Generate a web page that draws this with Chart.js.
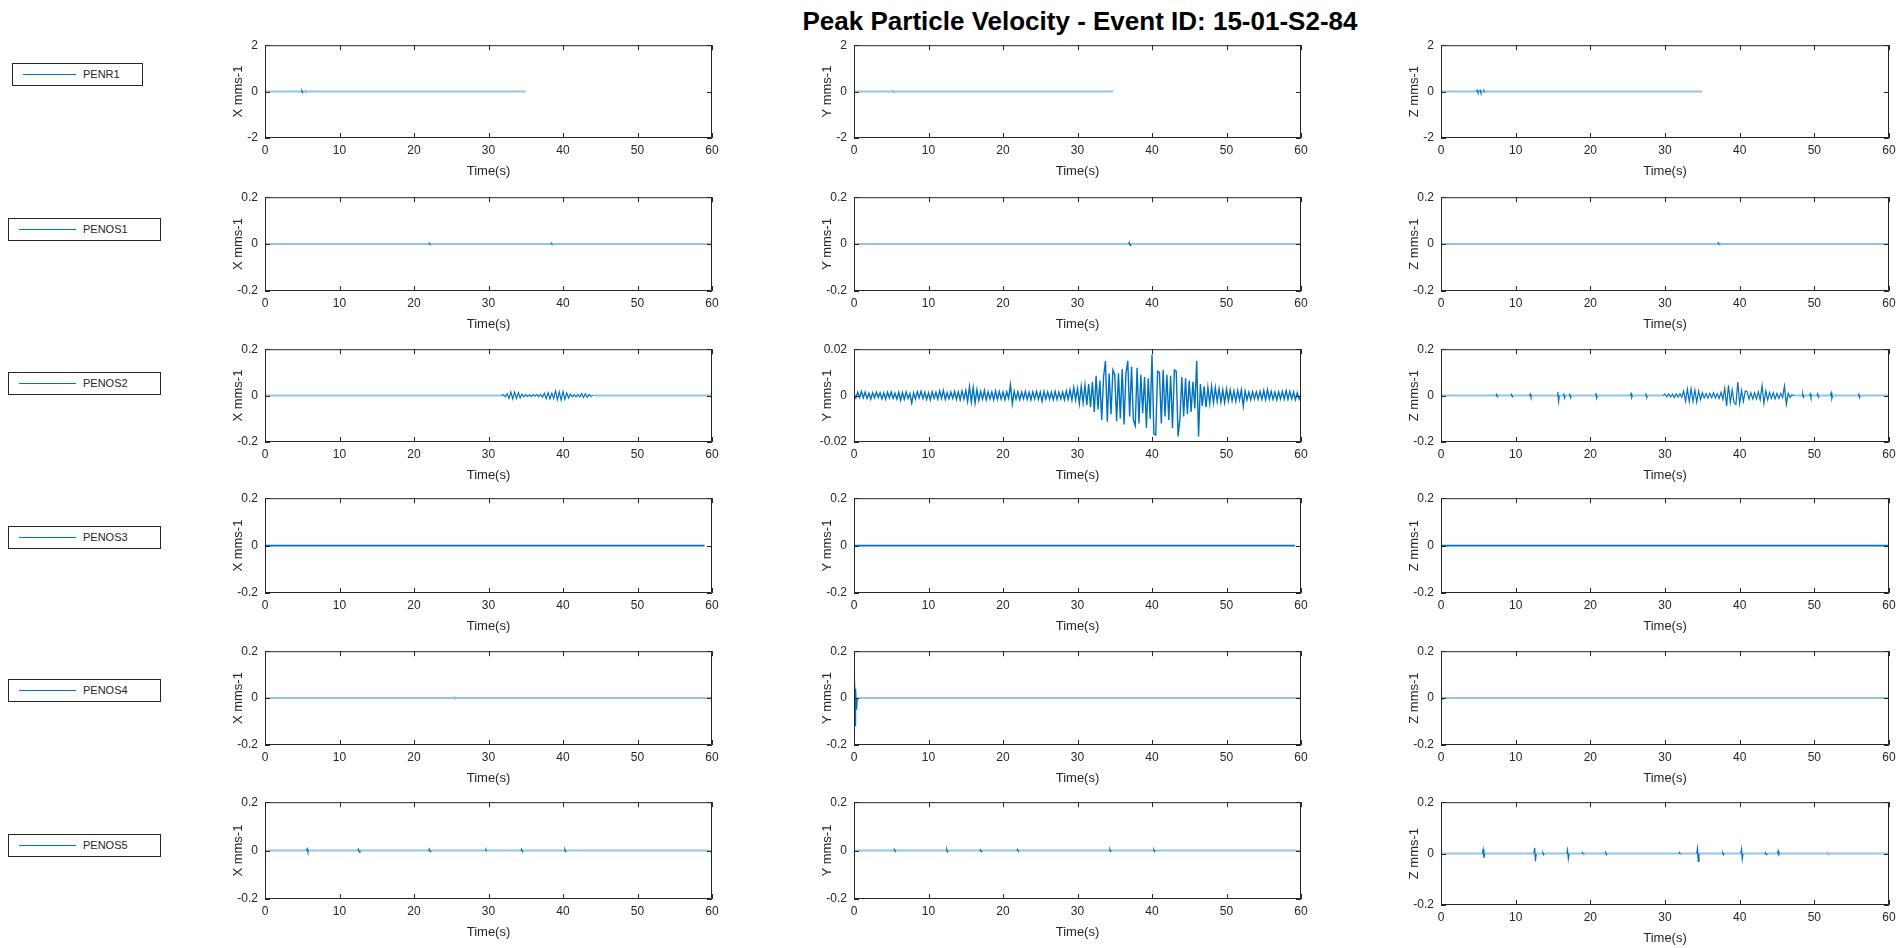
<!DOCTYPE html>
<html>
<head>
<meta charset="utf-8">
<script src="https://cdn.jsdelivr.net/npm/chart.js@4.4.1/dist/chart.umd.min.js"></script>
<style>
  body { margin: 0; width: 1899px; height: 948px; background: #fff; position: relative; overflow: hidden;
         font-family: "Liberation Sans", Arial, sans-serif; color: #262626; }
  canvas { position: absolute; }
  .title { position: absolute; left: 580px; width: 1000px; top: 7px; height: 28px; line-height: 28px;
           text-align: center; font-weight: bold; font-size: 26px; color: #000; }
  .legend { position: absolute; height: 21px; border: 1px solid #262626; background: #fff; font-size: 11px; }
  .legend .line { position: absolute; left: 10px; top: 10px; height: 0; border-top: 1.5px solid #0072BD; }
  .legend .txt { position: absolute; top: 0; line-height: 21px; }
</style>
</head>
<body>
<div class="title">Peak Particle Velocity - Event ID: 15-01-S2-84</div>
<div id="legends"></div>

<script>
// ---- data ----
const stations = ['PENR1', 'PENOS1', 'PENOS2', 'PENOS3', 'PENOS4', 'PENOS5'];
const components = ['X', 'Y', 'Z'];
const xTicks = [0, 10, 20, 30, 40, 50, 60];
// y limits (+/-) per station row, per component
const yLimits = [
  [2, 2, 2],
  [0.2, 0.2, 0.2],
  [0.2, 0.02, 0.2],
  [0.2, 0.2, 0.2],
  [0.2, 0.2, 0.2],
  [0.2, 0.2, 0.2]
];
// time where each record stops (s)
const traceEnd = [
  [35, 34.8, 35],
  [60, 60, 60],
  [60, 60, 60],
  [59, 59.2, 60],
  [60, 60, 60],
  [60, 60, 60]
];

// isolated peaks: [time, upper peak, lower peak]
const penr1X = [[5.0, 0.04, -0.04], [5.5, 0.03, -0.03]];
const penr1Y = [[5.2, 0.03, -0.02]];
const penr1Z = [[4.9, 0.06, -0.04], [5.3, 0.05, -0.05], [5.8, 0.04, -0.03]];
const penos1X = [[22.1, 0.004, -0.003], [38.5, 0.004, -0.003]];
const penos1Y = [[37.0, 0.008, -0.006]];
const penos1Z = [[37.2, 0.006, -0.003]];
const penos2X = [];
const penos2Y = [];
const penos2Z = [[7.5, 0.006, -0.005], [9.5, 0.005, -0.005], [12.0, 0.006, -0.006], [15.7, 0.016, -0.025],
                 [16.5, 0.01, -0.01], [17.3, 0.009, -0.009], [20.8, 0.011, -0.011], [25.5, 0.009, -0.008],
                 [27.5, 0.01, -0.009], [48.5, 0.008, -0.007], [49.5, 0.007, -0.008], [50.5, 0.008, -0.006],
                 [52.3, 0.012, -0.012], [56.0, 0.01, -0.009]];
const penos3X = [];
const penos3Y = [];
const penos3Z = [];
const penos4X = [[25.5, 0.003, -0.003]];
const penos4Y = [[0.1, 0.095, -0.12], [0.3, 0.04, -0.05]];
const penos4Z = [[0.1, 0.012, -0.004]];
const penos5X = [[5.7, 0.008, -0.005], [12.6, 0.006, -0.006], [22.1, 0.007, -0.004],
                 [29.7, 0.004, -0.003], [34.5, 0.006, -0.005], [40.3, 0.005, -0.004]];
const penos5Y = [[5.5, 0.005, -0.004], [12.5, 0.006, -0.005], [17.0, 0.004, -0.004],
                 [22.0, 0.005, -0.004], [34.4, 0.005, -0.004], [40.3, 0.004, -0.004]];
const penos5Z = [[5.7, 0.016, -0.017], [12.6, 0.022, -0.03], [13.7, 0.004, -0.004], [17.0, 0.014, -0.02],
                 [19.0, 0.004, -0.003], [22.1, 0.006, -0.004], [32.0, 0.004, -0.003], [34.4, 0.02, -0.03],
                 [37.8, 0.004, -0.004], [40.3, 0.0175, -0.021], [43.5, 0.004, -0.004], [45.2, 0.01, -0.005],
                 [51.8, 0.003, -0.003]];

// dense sections, sampled every 0.25 s
const sampleStep = 0.25;
const penos2YStart = 0;
const penos2YWave = [
  0.001, -0.001, 0.0015, -0.0008,   0.0018, -0.001, 0.0015, -0.0012,   0.001, -0.0015, 0.0012, -0.001,
  0.0015, -0.0008, 0.0012, -0.0014, 0.0012, -0.0015, 0.0015, -0.001,  0.0016, -0.0012, 0.001, -0.0015,
  0.0014, -0.002, 0.0012, -0.0016,  0.0015, -0.0012, 0.0008, -0.0032,  0.0012, -0.0014, 0.0016, -0.001,
  0.0018, -0.0012, 0.0014, -0.0016, 0.0012, -0.0018, 0.0016, -0.0012, 0.0014, -0.0015, 0.002, -0.0012,
  0.0022, -0.0016, 0.0012, -0.0014, 0.0015, -0.0012, 0.0018, -0.0016, 0.0016, -0.0018, 0.002, -0.0015,
  0.0022, -0.0025, 0.0038, -0.0028, 0.0035, -0.0032, 0.0025, -0.002,  0.0018, -0.0015, 0.0022, -0.0018,
  0.0016, -0.0014, 0.0015, -0.0018, 0.002, -0.0016, 0.0018, -0.0015,  0.0015, -0.0018, 0.0016, -0.0012,
  0.0047, -0.0035, 0.0018, -0.0015, 0.0016, -0.0018, 0.0015, -0.0014, 0.0018, -0.0016, 0.0014, -0.0018,
  0.0016, -0.0014, 0.0018, -0.0016, 0.0015, -0.0025, 0.0018, -0.0014, 0.0016, -0.0015, 0.0014, -0.0018,
  0.0018, -0.0016, 0.0015, -0.0014, 0.0015, -0.0018, 0.002, -0.0016,  0.0025, -0.002, 0.0035, -0.0018,
  0.003, -0.0035, 0.004, -0.003,    0.0045, -0.004, 0.005, -0.005,     0.006, -0.007, 0.0085, -0.006,
  0.0065, -0.0105, 0.008, 0.0149,   -0.0113, 0.0095, -0.008, 0.011,    0.009, -0.011, 0.0096, -0.0099,
  0.0115, -0.0124, 0.0095, 0.015,   -0.009, 0.0125, -0.0105, -0.013,   0.012, -0.012, 0.009, -0.0075,
  0.008, -0.014, 0.0075, -0.01,     0.0176, -0.0165, -0.017, 0.0105,   0.01, -0.012, 0.011, -0.009,
  0.009, -0.0105, 0.0085, -0.014,   0.011, 0.0105, -0.0176, -0.01,     0.008, -0.009, 0.0075, -0.008,
  0.0065, -0.007, 0.006, -0.0055,   0.015, -0.0176, 0.005, -0.0045,    0.004, -0.005, 0.0035, -0.0035,
  0.004, -0.003, 0.0035, -0.0025,   0.003, -0.0028, 0.0025, -0.003,    0.0028, -0.0022, 0.0025, -0.0022,
  0.002, -0.0025, 0.0022, -0.0018,  0.0025, -0.0045, 0.002, -0.0018,   0.0015, -0.0018, 0.0016, -0.0014,
  0.0016, -0.0015, 0.0018, -0.0016, 0.0022, -0.0018, 0.0025, -0.0015,  0.0018, -0.0016, 0.0015, -0.0018,
  0.0016, -0.0014, 0.0018, -0.0015, 0.0022, -0.0016, 0.0018, -0.0014,  0.0015, -0.0018, 0.0012, -0.0015,
  0.0005
];
const penos2ZStart = 30;
const penos2ZWave = [
  0.006, -0.005, 0.007, -0.006,   0.006, -0.008, 0.007, -0.006,   0.008, -0.007, 0.02, -0.024,
  0.028, -0.026, 0.03, -0.025,    0.024, -0.028, 0.02, -0.018,    0.012, -0.01, 0.009, -0.011,
  0.01, -0.009, 0.012, -0.01,     0.008, -0.012, 0.014, -0.016,   0.032, -0.045, 0.044, -0.03,
  0.025, -0.03, -0.038, 0.058,    -0.035, 0.022, -0.025, 0.02,    0.018, -0.015, 0.012, -0.014,
  0.012, -0.014, 0.016, -0.018,   0.044, -0.034, 0.02, -0.018,    0.014, -0.012, 0.012, -0.014,
  0.01, -0.012, 0.01, -0.009,     0.041, -0.038, 0.01, -0.008,    0.004
];
const penos2XStart = 32;
const penos2XWave = [
  0.004, -0.005, 0.008, -0.012,   0.016, -0.014, 0.015, -0.012,   0.012, -0.01, 0.006, -0.005,
  0.004, -0.004, 0.003, -0.004,   0.004, -0.003, 0.004, -0.004,   0.005, -0.006, 0.01, -0.012,
  0.012, -0.014, 0.01, -0.012,    0.02, -0.018, 0.016, -0.02,     0.018, -0.016, 0.012, -0.01,
  0.006, -0.005, 0.004, -0.005,   0.005, -0.006, 0.009, -0.008,   0.008, -0.007, 0.005, -0.004,
  0.002
];

const peaks = [
  [penr1X, penr1Y, penr1Z],
  [penos1X, penos1Y, penos1Z],
  [penos2X, penos2Y, penos2Z],
  [penos3X, penos3Y, penos3Z],
  [penos4X, penos4Y, penos4Z],
  [penos5X, penos5Y, penos5Z]
];
const waves = {
  '2-0': { start: penos2XStart, values: penos2XWave },
  '2-1': { start: penos2YStart, values: penos2YWave },
  '2-2': { start: penos2ZStart, values: penos2ZWave }
};

// ---- layout (page pixels of each axes box) ----
const colLeft = [265, 854, 1441];
const colRight = [712, 1301, 1889];
const rowTop = [41, 193, 345, 494, 647, 798];
const rowBottom = [138, 291, 442, 593, 745, 899];
const legendBoxes = [
  { left: 12, top: 63, width: 129, lineW: 53, textX: 70 },
  { left: 8, top: 218, width: 151, lineW: 57, textX: 74 },
  { left: 8, top: 372, width: 151, lineW: 57, textX: 74 },
  { left: 8, top: 526, width: 151, lineW: 57, textX: 74 },
  { left: 8, top: 679, width: 151, lineW: 57, textX: 74 },
  { left: 8, top: 834, width: 151, lineW: 57, textX: 74 }
];

const BLUE = '#0072BD';
const FAINT = 'rgba(0,114,189,0.42)';
const AXIS = '#262626';
const FONT = '"Liberation Sans", Arial, sans-serif';
const PAD = { left: 20, top: 10, right: 16, bottom: 4 };
const Y_AXIS_W = 34;
const X_AXIS_H = 41;

// legends
const legendHost = document.getElementById('legends');
stations.forEach((name, i) => {
  const b = legendBoxes[i];
  const d = document.createElement('div');
  d.className = 'legend';
  d.style.left = b.left + 'px';
  d.style.top = b.top + 'px';
  d.style.width = b.width + 'px';
  d.innerHTML = '<div class="line" style="width:' + b.lineW + 'px"></div>' +
                '<span class="txt" style="left:' + b.textX + 'px">' + name + '</span>';
  legendHost.appendChild(d);
});

// MATLAB-like box with inward ticks on all four sides
const boxPlugin = {
  id: 'matlabBox',
  afterDraw(chart) {
    const { ctx, chartArea: a, scales: { x, y } } = chart;
    ctx.save();
    ctx.strokeStyle = AXIS;
    ctx.lineWidth = 1;
    ctx.beginPath();
    ctx.rect(a.left + 0.5, a.top + 0.5, a.right - a.left - 1, a.bottom - a.top - 1);
    x.ticks.forEach(t => {
      const px = Math.round(x.getPixelForValue(t.value)) + 0.5;
      ctx.moveTo(px, a.bottom); ctx.lineTo(px, a.bottom - 5);
      ctx.moveTo(px, a.top); ctx.lineTo(px, a.top + 5);
    });
    y.ticks.forEach(t => {
      const py = Math.round(y.getPixelForValue(t.value)) + 0.5;
      ctx.moveTo(a.left, py); ctx.lineTo(a.left + 5, py);
      ctx.moveTo(a.right, py); ctx.lineTo(a.right - 5, py);
    });
    ctx.stroke();
    ctx.restore();
  }
};

function buildPoints(end, peakList, wave) {
  const pts = [{ x: 0, y: 0 }];
  if (wave) {
    if (wave.start > 0) pts.push({ x: wave.start - sampleStep, y: 0 });
    wave.values.forEach((v, i) => pts.push({ x: wave.start + i * sampleStep, y: v }));
    const last = wave.start + wave.values.length * sampleStep;
    if (last < end) pts.push({ x: last, y: 0 });
  }
  peakList.forEach(([t, up, dn]) => {
    pts.push({ x: t - 0.15, y: 0 }, { x: t - 0.05, y: up }, { x: t + 0.05, y: dn }, { x: t + 0.15, y: 0 });
  });
  pts.push({ x: end, y: 0 });
  pts.sort((a, b) => a.x - b.x);
  return pts;
}

stations.forEach((st, r) => {
  components.forEach((comp, c) => {
    const l = colLeft[c], rt = colRight[c], t = rowTop[r];
    const b = (r === 5 && c === 2) ? 905 : rowBottom[r];
    const lim = yLimits[r][c];
    const solidRow = r === 3;
    const denseY = r === 2 && c === 1;
    const thr = (solidRow || denseY) ? -1 : lim * 0.015;
    const solidW = solidRow ? 1.6 : (denseY ? 1.4 : 1.2);

    const cv = document.createElement('canvas');
    const w = (rt - l) + Y_AXIS_W + PAD.left + PAD.right;
    const h = (b - t) + X_AXIS_H + PAD.top + PAD.bottom;
    cv.width = w; cv.height = h;
    cv.style.left = (l - Y_AXIS_W - PAD.left) + 'px';
    cv.style.top = (t - PAD.top) + 'px';
    cv.style.width = w + 'px'; cv.style.height = h + 'px';
    document.body.appendChild(cv);

    const big = p => Math.max(Math.abs(p.p0.parsed.y), Math.abs(p.p1.parsed.y)) > thr;

    new Chart(cv, {
      type: 'line',
      data: {
        datasets: [{
          label: st,
          data: buildPoints(traceEnd[r][c], peaks[r][c], waves[r + '-' + c]),
          borderColor: BLUE,
          borderWidth: solidW,
          pointRadius: 0,
          tension: 0,
          segment: {
            borderColor: p => big(p) ? BLUE : FAINT,
            borderWidth: p => big(p) ? solidW : 2
          }
        }]
      },
      options: {
        responsive: false,
        animation: false,
        devicePixelRatio: 1,
        layout: { padding: PAD },
        plugins: { legend: { display: false }, tooltip: { enabled: false } },
        scales: {
          x: {
            type: 'linear', min: 0, max: 60,
            grid: { display: false, drawTicks: false },
            border: { display: false },
            afterBuildTicks: s => { s.ticks = xTicks.map(v => ({ value: v })); },
            ticks: { padding: 5, maxRotation: 0, autoSkip: false, color: AXIS, font: { family: FONT, size: 12 } },
            title: { display: true, text: 'Time(s)', color: AXIS, padding: 0, font: { family: FONT, size: 13 } },
            afterFit: s => { s.height = X_AXIS_H; }
          },
          y: {
            type: 'linear', min: -lim, max: lim,
            grid: { display: false, drawTicks: false },
            border: { display: false },
            ticks: { stepSize: lim, padding: 7, color: AXIS, font: { family: FONT, size: 12 } },
            title: { display: true, text: comp + ' mms-1', color: AXIS, padding: 0, font: { family: FONT, size: 13 } },
            afterFit: s => { s.width = Y_AXIS_W; }
          }
        }
      },
      plugins: [boxPlugin]
    });
  });
});
</script>
</body>
</html>
